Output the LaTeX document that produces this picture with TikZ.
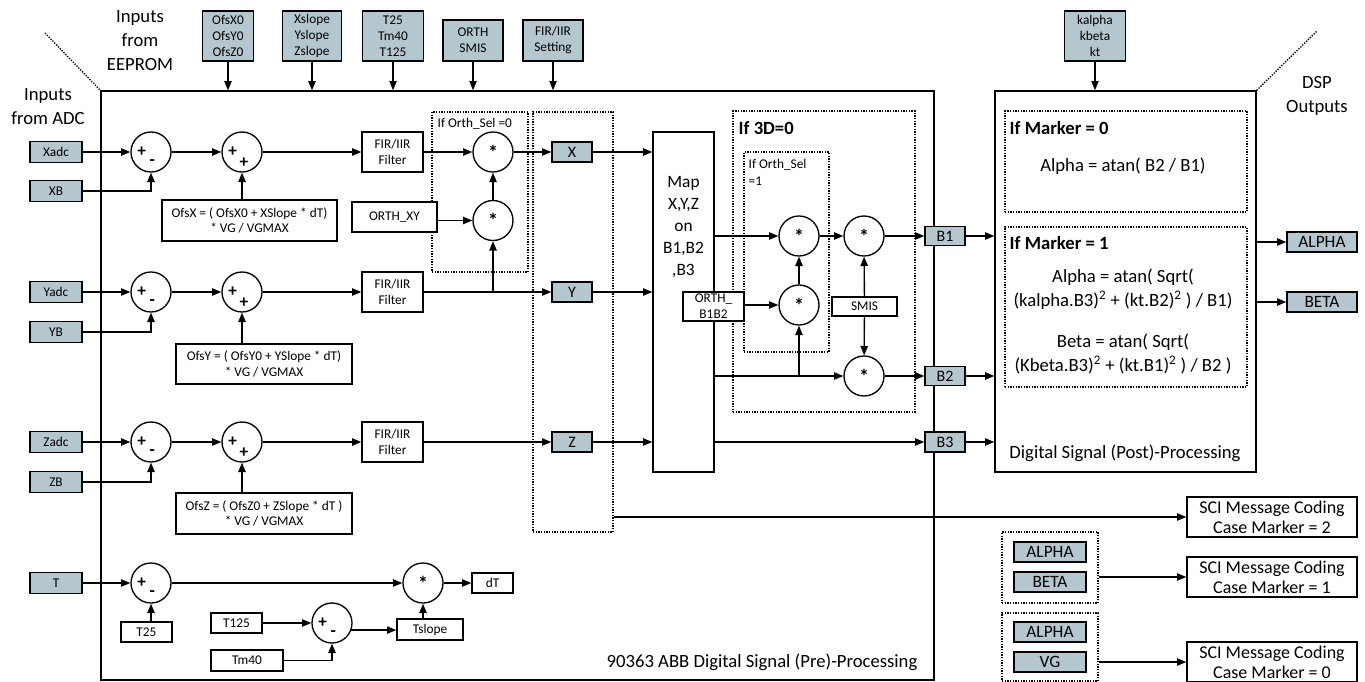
\documentclass[tikz,border=0pt]{standalone}
\usepackage{fontspec}
\setmainfont{Carlito}
\usetikzlibrary{arrows.meta}

\definecolor{boxgray}{RGB}{181,199,206}

\begin{document}
\begin{tikzpicture}
  [x=0.75pt,y=-0.75pt,line width=1pt,
   >={Triangle[length=7pt,width=5.5pt]},
   every node/.style={inner sep=0pt,align=center},
   sz/.style 2 args={minimum width=#1*0.75pt,minimum height=#2*0.75pt},
   fsmall/.style={font=\fontsize{10}{12}\selectfont},
   fmid/.style={font=\fontsize{12}{14}\selectfont},
   fout/.style={font=\fontsize{13}{15}\selectfont},
   fbig/.style={font=\fontsize{14}{18}\selectfont},
   fhead/.style={font=\bfseries\fontsize{14}{18}\selectfont},
   gbox/.style={draw,fill=boxgray,fsmall},
   wbox/.style={draw,fill=white,fsmall},
   ofsbox/.style={wbox,font=\fontsize{10}{11.5}\selectfont},
   scibox/.style={draw,fill=white,font=\fontsize{13.5}{15}\selectfont,sz={170}{40}},
   dotbox/.style={draw,densely dotted},
   sign/.style={font=\bfseries\fontsize{13}{13}\selectfont},
   op/.style={draw,circle,fill=white,minimum size=30pt,font=\bfseries\fontsize{15}{15}\selectfont},
   sub/.style={op,path picture={
       \node[sign] at ([xshift=-7pt]path picture bounding box.center) {+};
       \node[sign] at ([shift={(1pt,-8pt)}]path picture bounding box.center) {-};}},
   add/.style={op,path picture={
       \node[sign] at ([xshift=-7pt]path picture bounding box.center) {+};
       \node[sign] at ([shift={(1.5pt,-8pt)}]path picture bounding box.center) {+};}}]
  \useasboundingbox (0,0) rectangle (1365,682);

  % frames and dotted groups
  \node[draw,sz={833}{589}] (pre) at (517.5,385.5) {};
  \node[draw,sz={261}{381}] (post) at (1125.5,281.5) {};
  \coordinate (dl) at (45,33);
  \coordinate (dr) at (1317,31);
  \draw[densely dotted] (dl) -- (pre.north west);
  \draw[densely dotted] (post.north east) -- (dr);
  \node[dotbox,sz={96}{160}] (orth0) at (480,192) {};
  \node[dotbox,sz={80}{420}] (col) at (573,322) {};
  \node[dotbox,sz={182}{301}] (d3) at (824,261.5) {};
  \node[dotbox,sz={85}{200}] (orth1) at (786.5,252) {};
  \node[dotbox,sz={242}{101}] (m0) at (1126,161.5) {};
  \node[dotbox,sz={242}{160}] (m1) at (1126,307) {};
  \node[dotbox,sz={96}{71}] (g1) at (1050,567.5) {};
  \node[dotbox,sz={96}{68}] (g0) at (1050,647) {};

  % headings
  \node[fbig] (eeprom) at (140,41) {Inputs\\from\\EEPROM};
  \node[fbig] (adc) at (48,107) {Inputs\\from ADC};
  \node[fbig] (dsp) at (1317,96) {DSP\\Outputs};
  \node[fbig,anchor=east] (pretxt) at (918,662) {90363 ABB Digital Signal (Pre)-Processing};
  \node[fbig] (posttxt) at (1125,453) {Digital Signal (Post)-Processing};
  \node[fsmall,anchor=west] (orth0txt) at (437,124) {If Orth\_Sel =0};
  \node[fhead,anchor=west] (d3txt) at (738,128) {If 3D=0};
  \node[font=\fontsize{10}{12.75}\selectfont,anchor=north west,align=left] (orth1txt) at (748,159) {If Orth\_Sel\\=1};
  \node[fhead,anchor=west] (m0txt) at (1009,128) {If Marker = 0};
  \node[fbig] (alpha0) at (1123,166) {Alpha = atan( B2 / B1)};
  \node[fhead,anchor=west] (m1txt) at (1009,243) {If Marker = 1};
  \node[fbig] (alpha1) at (1123,289) {Alpha = atan( Sqrt(\\(kalpha.B3)\textsuperscript{2} + (kt.B2)\textsuperscript{2} ) / B1)};
  \node[fbig] (beta1) at (1123,354) {Beta = atan( Sqrt(\\(Kbeta.B3)\textsuperscript{2} + (kt.B1)\textsuperscript{2} ) / B2 )};

  % parameters from EEPROM
  \node[gbox,sz={51}{50}] (ofs0) at (228,36) {OfsX0\\OfsY0\\OfsZ0};
  \node[gbox,sz={59}{50}] (slope) at (312,36) {Xslope\\Yslope\\Zslope};
  \node[gbox,sz={61}{50}] (tcal) at (393,36) {T25\\Tm40\\T125};
  \node[gbox,sz={60}{41}] (orth) at (473,40.5) {ORTH\\SMIS};
  \node[gbox,sz={60}{41}] (firset) at (553,40.5) {FIR/IIR\\Setting};
  \node[gbox,sz={61}{50}] (kpar) at (1095,36) {kalpha\\kbeta\\kt};

  % X channel
  \node[gbox,sz={52}{21}] (xadc) at (56,152) {Xadc};
  \node[gbox,sz={52}{21}] (xb) at (56,191) {XB};
  \node[sub] (sx1) at (151,152) {};
  \node[add] (sx2) at (242,152) {};
  \node[ofsbox,sz={175}{41}] (ofsx) at (249.5,220.5) {OfsX = ( OfsX0 + XSlope * dT)\\* VG / VGMAX};
  \node[wbox,sz={61}{40}] (firx) at (392.5,152) {FIR/IIR\\Filter};
  \node[op] (mx1) at (493,152) {*};
  \node[op] (mx2) at (493,220.5) {*};
  \node[wbox,sz={85}{30}] (orthxy) at (394.5,217) {ORTH\_XY};
  \node[gbox,fmid,sz={40}{20}] (xg) at (572,152) {X};

  % Y channel
  \node[gbox,sz={52}{21}] (yadc) at (56,292) {Yadc};
  \node[gbox,sz={52}{21}] (yb) at (56,332) {YB};
  \node[sub] (sy1) at (151,292) {};
  \node[add] (sy2) at (242,292) {};
  \node[ofsbox,sz={176}{40}] (ofsy) at (264,364) {OfsY = ( OfsY0 + YSlope * dT)\\* VG / VGMAX};
  \node[wbox,sz={61}{40}] (firy) at (392.5,292) {FIR/IIR\\Filter};
  \node[gbox,fmid,sz={40}{20}] (yg) at (572,292) {Y};

  % Z channel
  \node[gbox,sz={52}{21}] (zadc) at (56,442) {Zadc};
  \node[gbox,sz={52}{21}] (zb) at (56,482) {ZB};
  \node[sub] (sz1) at (151,442) {};
  \node[add] (sz2) at (242,442) {};
  \node[ofsbox,sz={176}{41}] (ofsz) at (264,513.5) {OfsZ = ( OfsZ0 + ZSlope * dT )\\* VG / VGMAX};
  \node[wbox,sz={61}{40}] (firz) at (392.5,442) {FIR/IIR\\Filter};
  \node[gbox,fmid,sz={40}{20}] (zg) at (572,442) {Z};

  % temperature
  \node[gbox,sz={52}{21}] (tin) at (56,583) {T};
  \node[sub] (st1) at (151,583) {};
  \node[wbox,sz={51}{20}] (t25) at (146.5,632) {T25};
  \node[wbox,sz={51}{20}] (t125) at (236.5,623) {T125};
  \node[wbox,sz={72}{21}] (tm40) at (247,660.5) {Tm40};
  \node[sub] (st2) at (332,623) {};
  \node[wbox,sz={66}{21}] (tslope) at (430,629.5) {Tslope};
  \node[op] (mt) at (423,583) {*};
  \node[wbox,sz={41}{20}] (dt) at (492.5,583) {dT};

  % mapping and 3D correction
  \node[draw,fill=white,sz={61}{340}] (map) at (683.5,302) {};
  \node[font=\fontsize{13}{16.5}\selectfont] (maptxt) at (683.5,227) {Map\\X,Y,Z\\on\\B1,B2\\,B3};
  \node[op] (mb1a) at (799,236) {*};
  \node[op] (mb1b) at (864,236) {*};
  \node[op] (mo) at (799,305) {*};
  \node[op] (mb2) at (864,376) {*};
  \node[wbox,sz={61}{29}] (orthb) at (713.5,306.5) {ORTH\_\\B1B2};
  \node[wbox,sz={65}{19}] (smis) at (864.5,306.5) {SMIS};
  \node[gbox,fmid,sz={40}{19}] (b1) at (945,236) {B1};
  \node[gbox,fmid,sz={40}{19}] (b2) at (945,376) {B2};
  \node[gbox,fmid,sz={40}{20}] (b3) at (945,442) {B3};

  % outputs
  \node[gbox,fout,sz={70}{20}] (aout) at (1322,242) {ALPHA};
  \node[gbox,fout,sz={70}{20}] (bout) at (1322,302) {BETA};
  \node[gbox,fout,sz={72}{20}] (ga1) at (1050,552) {ALPHA};
  \node[gbox,fout,sz={72}{20}] (gb1) at (1050,582) {BETA};
  \node[gbox,fout,sz={72}{20}] (ga0) at (1050,632) {ALPHA};
  \node[gbox,fout,sz={72}{20}] (gv0) at (1050,662) {VG};
  \node[scibox] (sci2) at (1272,517) {SCI Message Coding\\Case Marker = 2};
  \node[scibox] (sci1) at (1272,577) {SCI Message Coding\\Case Marker = 1};
  \node[scibox] (sci0) at (1272,662) {SCI Message Coding\\Case Marker = 0};

  % connectors
  \foreach \p in {ofs0,slope,tcal,orth,firset}
    \draw[->] (\p) -- (\p |- pre.north);
  \draw[->] (kpar) -- (kpar |- post.north);

  \foreach \c in {x,y,z} {
    \draw[->] (\c adc) -- (s\c1);
    \draw[->] (\c b) -| (s\c1);
    \draw[->] (s\c1) -- (s\c2);
    \draw[->] (s\c2.south |- ofs\c.north) -- (s\c2.south);
    \draw[->] (s\c2) -- (fir\c);
    \draw[->] (\c g) -- (\c g -| map.west);
  }
  \draw[->] (firx) -- (mx1);
  \draw[->] (mx1) -- (xg);
  \draw[->] (orthxy.east |- mx2) -- (mx2);
  \draw[->] (mx2.south |- firy) -- (mx2);
  \draw[->] (mx2) -- (mx1);
  \draw[->] (firy) -- (yg);
  \draw[->] (firz) -- (zg);

  \draw[->] (tin) -- (st1);
  \draw[->] (st1.south |- t25.north) -- (st1.south);
  \draw[->] (st1) -- (mt);
  \draw[->] (t125) -- (st2);
  \draw[->] (tm40) -| (st2);
  \draw[->] (st2.-20) -- (st2.-20 -| tslope.west);
  \draw[->] (mt.south |- tslope.north) -- (mt.south);
  \draw[->] (mt) -- (dt);

  \draw[->] (map.east |- mb1a) -- (mb1a);
  \draw[->] (mb1a) -- (mb1b);
  \draw[->] (mb1b) -- (b1);
  \draw[->] (map.east |- mb2) -- (mb2);
  \draw[->] (mb2) -- (b2);
  \draw[->] (map.east |- b3) -- (b3);
  \draw[->] (orthb.east |- mo) -- (mo);
  \draw[->] (mo.south |- mb2) -- (mo);
  \draw[->] (mo) -- (mb1a);
  \draw[->] (smis) -- (mb1b);
  \draw[->] (smis) -- (mb2);

  \foreach \b in {b1,b2,b3}
    \draw[->] (\b) -- (\b -| post.west);
  \draw[->] (post.east |- aout) -- (aout);
  \draw[->] (post.east |- bout) -- (bout);
  \draw[->] (col.east |- sci2) -- (sci2);
  \draw[->] (g1.east |- sci1) -- (sci1);
  \draw[->] (g0.east |- sci0) -- (sci0);
\end{tikzpicture}
\end{document}
